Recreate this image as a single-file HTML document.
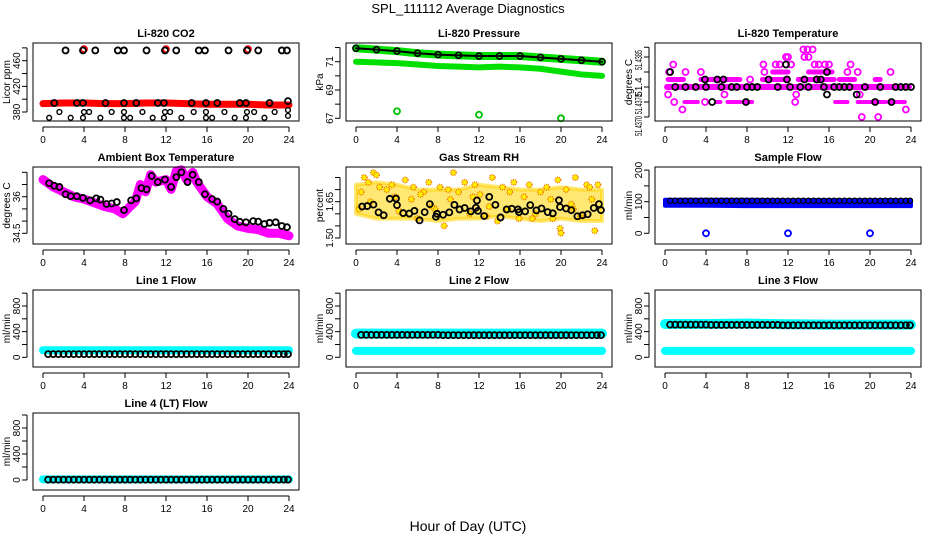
<!DOCTYPE html>
<html><head><meta charset="utf-8"><title>SPL_111112 Average Diagnostics</title>
<style>
html,body{margin:0;padding:0;background:#fff;}
svg{display:block;font-family:"Liberation Sans",Arial,sans-serif;}
.ttl{font-size:11px;font-weight:bold;text-anchor:middle;}
.tk{font-size:10px;}
</style></head>
<body>
<svg id="chart" width="936" height="540" viewBox="0 0 936 540">
<text x="468" y="13" font-size="13" text-anchor="middle">SPL_111112  Average Diagnostics</text>
<text x="468" y="531" font-size="14" text-anchor="middle">Hour of Day (UTC)</text>
</svg>
<script>
// ---------- data ----------
const xTicks=[0,4,8,12,16,20,24];
// CO2
const co2BandH=[0,2,4,6,8,10,12,14,16,18,20,22,24];
const co2BandV=[393,394,394,393,393,394,394,393,392,392,392,391,391];
const co2HighH=[2.2,3.9,5.1,7.3,7.9,10.1,11.9,13.0,15.2,15.8,18.1,19.9,21.0,23.3,23.8];
const co2HighV=[476,476,476,476,476,476,476,476,476,476,476,476,476,476,476];
const co2RedH=[4,12,20];
const co2RedV=[478,478,478];
const co2MidH=[1.1,3.3,3.9,6.1,7.9,9.1,11.2,11.8,14.5,15.9,17.0,19.2,19.8,22.1,23.9];
const co2MidV=[394,394,394,394,394,394,394,394,394,394,394,394,394,394,397];
const co2LowH=[1.6,4.0,4.5,6.7,7.9,9.7,11.9,12.4,14.7,15.9,17.7,19.9,20.6,22.6,23.9];
const co2LowV=[380,380,380,380,380,380,380,380,380,380,380,380,380,380,383];
const co2Low2H=[0.6,2.7,3.9,5.6,7.9,8.5,10.7,11.8,13.5,15.9,16.5,18.7,19.8,21.6,23.9];
const co2Low2V=[371,371,371,371,371,371,371,371,371,371,371,371,371,371,374];
const co2Ticks=[380,400,420,440,460,480];
const co2Labels=[380,420,460];
// Pressure
const presH=[0,2,4,6,8,10,12,14,16,18,20,22,24];
const presTop=[71.95,71.85,71.75,71.6,71.5,71.45,71.4,71.4,71.4,71.3,71.2,71.1,71.0];
const presLow=[71.0,70.95,70.9,70.8,70.7,70.65,70.6,70.65,70.6,70.5,70.3,70.1,70.0];
const presOutH=[4,12,20];
const presOutV=[67.5,67.25,67.0];
const presTicks=[67,68,69,70,71,72];
const presLabels=[67,69,71];
// Temperature (level index relative to 51.4380)
const tempSeg1S=[0.3,3.5,9.5,13.0,17.0,20.5];
const tempSeg1E=[1.8,7.3,12.0,16.5,18.5,21.0];
const tempSeg2S=[10.5,14.0];
const tempSeg2E=[12.0,16.3];
const tempSegM2S=[1.9,5.0,6.1,7.6,16.6,18.8,21.8];
const tempSegM2E=[3.2,5.4,7.3,8.5,17.8,21.5,23.4];
const tempPtH=[0.4,0.8,2.0,3.5,0.3,5.8,1.7,9.6,9.7,10.8,11.2,12.3,12.8,13.5,13.6,13.9,14.0,14.4,14.6,15.0,15.6,16.0,18.1,17.8,18.8,19.0,19.2,20.8,22.0,23.5,0.9,3.9,8.3,12.0,11.8,12.7];
const tempPtV=[2,3,2,2,-1,-1,-3,3,2,3,3,3,-1,5,4,5,4,5,3,3,3,3,3,2,2,-1,-4,-4,2,-3,-2,-2,1,4,4,-2];
const tempBlkH=[1,2,3,4,5.5,6.5,7,8,8.5,9,11,12.2,13.2,14,15.5,16.5,17,17.5,18,19.5,21,22.5,23,23.5,24,3.9,5.1,5.7,10.1,11.9,13.6,14.8,15.2,0.5,15.8,11.8,15.8,18.7,4.6,7.9,20.5,22.1];
const tempBlkV=[0,0,0,0,0,0,0,0,0,0,0,0,0,0,0,0,0,0,0,0,0,0,0,0,0,1,1,1,1,1,1,1,1,2,2,3,-1,-1,-2,-2,-2,-2];
const tempTicks=[5.3,4,2,0,-2,-4];
const tempLabV=[3.6,0,-2.3,-5.2];
const tempLabT=["51.4385","51.4","51.4370","51.4370"];
// Ambient
const ambH=[0,1,2,3,4,5,6,7,7.8,8.5,9,9.5,10,10.5,11,12,12.5,13,13.5,14,14.6,15,16,17,18,19,20,21,22,23,24];
const ambV=[36.7,36.4,36.2,36.0,35.9,35.75,35.6,35.5,35.3,35.6,35.8,36.5,36.2,36.9,36.6,36.7,36.3,37.05,37.1,36.7,37.0,36.6,36.0,35.7,35.1,34.8,34.7,34.65,34.5,34.5,34.4];
const ambBlkH=[0.6,1.1,1.6,2.2,2.7,3.3,3.9,4.6,5.2,5.6,6.2,6.7,7.2,7.9,8.6,9.1,9.6,10.1,10.6,11.2,11.9,12.5,13.0,13.5,14.1,14.6,15.2,15.8,16.5,17.0,17.6,18.1,18.7,19.2,19.8,20.5,21.0,21.6,22.1,22.7,23.3,23.8];
const ambBlkV=[36.55,36.45,36.4,36.1,36.02,36.02,35.95,35.85,35.93,35.88,35.7,35.72,35.78,35.45,35.85,35.93,36.35,36.3,36.85,36.6,36.7,36.4,36.8,37.0,36.6,36.9,36.6,36.1,35.9,35.8,35.5,35.3,35.08,34.97,34.95,35.0,34.98,34.88,34.93,34.95,34.8,34.75];
const ambTicks=[34.5,35.0,35.5,36.0,36.5,37.0];
const ambLabels=[34.5,36.0];
// Gas stream RH
const rhH=[0,2,4,6,8,10,12,14,16,18,20,22,24];
const rhUp=[1.72,1.73,1.72,1.70,1.70,1.70,1.72,1.71,1.70,1.70,1.71,1.70,1.70];
const rhLo=[1.60,1.58,1.58,1.58,1.57,1.58,1.58,1.59,1.58,1.57,1.58,1.57,1.57];
const rhPtH=[0.3,0.8,1.2,1.7,2.3,3.0,3.5,4.2,4.8,5.4,6.0,6.6,7.1,7.7,8.2,8.6,9.2,9.5,10.0,10.6,11.1,11.6,12.1,12.7,13.3,13.8,14.3,14.8,15.4,15.9,16.4,16.9,17.5,18.0,18.6,19.2,19.7,19.9,20.0,20.5,21.0,21.4,21.9,22.5,23.0,23.3,23.6,0.5,2.0,3.8,5.6,7.4,9.0,11.4,13.0,15.0,17.2,19.0,21.2,22.8,1.4,6.3];
const rhPtV=[1.62,1.75,1.73,1.77,1.71,1.70,1.72,1.61,1.74,1.66,1.58,1.69,1.73,1.62,1.71,1.55,1.66,1.77,1.69,1.73,1.60,1.72,1.68,1.59,1.75,1.57,1.71,1.62,1.73,1.58,1.67,1.72,1.60,1.69,1.71,1.58,1.74,1.54,1.52,1.70,1.64,1.75,1.59,1.72,1.66,1.53,1.72,1.69,1.76,1.67,1.71,1.63,1.70,1.67,1.63,1.69,1.58,1.66,1.62,1.71,1.65,1.68];
const rhBlkH=[0.6,1.1,1.7,2.2,2.7,3.3,3.9,4.0,4.6,5.2,5.7,6.2,6.7,7.2,7.8,7.9,8.5,9.1,9.6,10.1,10.6,11.2,11.7,11.8,11.9,12.5,13.0,13.6,14.1,14.7,15.2,15.8,15.9,16.5,17.0,17.6,18.1,18.7,19.2,19.8,19.9,20.5,21.0,21.6,22.1,22.6,23.2,23.7,23.9];
const rhBlkV=[1.630,1.632,1.638,1.606,1.594,1.662,1.663,1.636,1.603,1.601,1.612,1.573,1.607,1.640,1.588,1.600,1.596,1.606,1.637,1.618,1.624,1.610,1.625,1.655,1.612,1.591,1.670,1.637,1.585,1.618,1.621,1.618,1.607,1.610,1.636,1.614,1.622,1.607,1.602,1.656,1.628,1.622,1.615,1.590,1.594,1.598,1.624,1.640,1.615];
const rhTicks=[1.50,1.55,1.60,1.65,1.70,1.75];
const rhLabels=["1.50","1.65"];
const rhLabelV=[1.50,1.65];
// Sample flow
const sfH=[0,4,8,12,16,20,24];
const sfTop=[106,106,106,105,105,105,105];
const sfBot=[87,87,86,86,86,86,86];
const sfBlk=[103,103,103,103,103,103,103];
const sfOutH=[4,12,20];
const sfOutV=[0,0,0];
const sfTicks=[0,50,100,150,200];
const sfLabels=[0,100,200];
// Line flows
const flowH=[0,4,8,12,16,20,24];
const flowBlkH=[0.5,1,1.5,2,2.5,3,3.5,4,4.5,5,5.5,6,6.5,7,7.5,8,8.5,9,9.5,10,10.5,11,11.5,12,12.5,13,13.5,14,14.5,15,15.5,16,16.5,17,17.5,18,18.5,19,19.5,20,20.5,21,21.5,22,22.5,23,23.5,23.9];
const l1Cyan=[110,110,110,110,110,110,110];
const l1Blk=[50,50,50,50,50,50,50,50,50,50,50,50,50,50,50,50,50,50,50,50,50,50,50,50,50,50,50,50,50,50,50,50,50,50,50,50,50,50,50,50,50,50,50,50,50,50,50,50];
const l2CyanTop=[370,370,370,370,370,370,370];
const l2CyanLow=[100,100,100,100,100,100,100];
const l2Blk=[350,350,350,350,350,350,350,350,350,350,350,350,350,350,350,350,345,345,345,345,345,345,345,345,345,345,345,345,345,345,345,345,345,345,345,345,345,345,345,345,345,345,345,345,345,345,345,345];
const l3CyanTop=[520,520,525,515,510,510,510];
const l3CyanLow=[100,100,100,100,100,100,100];
const l3Blk=[510,510,510,510,510,510,510,510,505,505,505,505,505,505,505,505,505,505,505,505,505,505,500,500,500,500,500,500,500,500,500,500,500,500,500,500,500,500,500,500,500,500,500,500,500,500,500,500];
const l4Cyan=[10,10,10,10,10,10,10];
const l4Blk=[5,5,5,5,5,5,5,5,5,5,5,5,5,5,5,5,5,5,5,5,5,5,5,5,5,5,5,5,5,5,5,5,5,5,5,5,5,5,5,5,5,5,5,5,5,5,5,5];
const flowTicks=[0,200,400,600,800,1000];
const flowLabels=[0,400,800];

// ---------- drawing ----------
const NS="http://www.w3.org/2000/svg";
const svg=document.getElementById('chart');
function mk(tag,attrs,parent){const e=document.createElementNS(NS,tag);for(const k in attrs)e.setAttribute(k,attrs[k]);(parent||svg).appendChild(e);return e;}

const colL=[33,346,655];
const rowT=[43,167,290,413];
const rowB=[121,244,367,490];

function panel(name,title,ylab,col,row,ref){
  const L=colL[col],R=L+266,T=rowT[row],B=rowB[row];
  const g=mk('g',{});
  
  
  const x=h=>L+10+h*(246/24);
  const y=v=>ref[1]+(v-ref[0])*(ref[3]-ref[1])/(ref[2]-ref[0]);
  const t=mk('text',{x:(L+R)/2,y:T-6,class:'ttl'},g);t.textContent=title;
  
  
  const yl=mk('text',{x:0,y:0,'font-size':10,'text-anchor':'middle',transform:`translate(${L-23},${(T+B)/2}) rotate(-90)`},g);yl.textContent=ylab;
  
  
  const plot=mk('g',{},g);
  
  
  const box=mk('rect',{x:L,y:T,width:R-L,height:B-T,fill:'none',stroke:'#000','stroke-width':1},g);
  
  
  const xa=mk('g',{},g);
  
  
  mk('line',{x1:x(xTicks[0]),x2:x(xTicks[xTicks.length-1]),y1:B+6,y2:B+6,stroke:'#000'},xa);
  xTicks.forEach(h=>{mk('line',{x1:x(h),x2:x(h),y1:B+6,y2:B+11,stroke:'#000'},xa);
    const tt=mk('text',{x:x(h),y:B+22,class:'tk','text-anchor':'middle'},xa);tt.textContent=h;});
  const ya=mk('g',{},g);
  
  
  return {g:plot,ya,x,y,L,R,T,B,name};
}
function yAxis(p,ticks,labVals,labTexts,fit){
  mk('line',{x1:p.L-6,x2:p.L-6,y1:p.y(ticks[0]),y2:p.y(ticks[ticks.length-1]),stroke:'#000'},p.ya);
  ticks.forEach(v=>mk('line',{x1:p.L-11,x2:p.L-6,y1:p.y(v),y2:p.y(v),stroke:'#000'},p.ya));
  labVals.forEach((v,i)=>{const tx=labTexts?labTexts[i]:String(v);
    const a={x:0,y:0,class:'tk','text-anchor':'middle',transform:`translate(${p.L-13},${p.y(v)}) rotate(-90)`};
    if(fit&&tx.length>4){a.textLength=fit;a.lengthAdjust='spacingAndGlyphs';}
    const t=mk('text',a,p.ya);t.textContent=tx;});
}
function circles(p,hs,vs,color,r,sw,label){
  const g=mk('g',{},p.g);
  
  
  hs.forEach((h,i)=>{const c=mk('circle',{cx:p.x(h),cy:p.y(vs[i]),r:r||3,fill:'none',stroke:color,'stroke-width':sw||1.6},g);
    
    });
}
function band(p,hs,vs,color,w,label){
  const pts=hs.map((h,i)=>p.x(h)+','+p.y(vs[i])).join(' ');
  const l=mk('polyline',{points:pts,fill:'none',stroke:color,'stroke-width':w,'stroke-linejoin':'round','stroke-linecap':'round'},p.g);
  
  
}
function area(p,hs,up,lo,color,op,label){
  const a=hs.map((h,i)=>p.x(h)+','+p.y(up[i]));
  const b=hs.map((h,i)=>p.x(h)+','+p.y(lo[i])).reverse();
  const pg=mk('polygon',{points:a.concat(b).join(' '),fill:color,'fill-opacity':op,stroke:color,'stroke-opacity':op,'stroke-width':4,'stroke-linejoin':'round'},p.g);
  
  
}
function segs(p,ss,es,v,color,w,label){
  ss.forEach((s,i)=>{const l=mk('line',{x1:p.x(s),x2:p.x(es[i]),y1:p.y(v),y2:p.y(v),stroke:color,'stroke-width':w,'stroke-linecap':'round'},p.g);
    
    });
}

// P1 CO2
let p=panel('co2','Li-820 CO2','Licor ppm',0,0,[380,112,460,60.7]);
yAxis(p,co2Ticks,co2Labels);
band(p,co2BandH,co2BandV,'#ff0000',7,'co2-red-band');
circles(p,co2RedH,co2RedV,'#ff0000',3,1.8,'co2-red-outliers');
circles(p,co2HighH,co2HighV,'#000',3,1.8,'co2-black-high');
circles(p,co2MidH,co2MidV,'#000',3,1.8,'co2-black-mid');
circles(p,co2LowH,co2LowV,'#000',2.4,1.4,'co2-black-low');
circles(p,co2Low2H,co2Low2V,'#000',2.4,1.4,'co2-black-lowest');
// P2 Pressure
p=panel('pressure','Li-820 Pressure','kPa',1,0,[71,61.7,67,118.3]);
yAxis(p,presTicks,presLabels);
band(p,presH,presTop,'#00e000',8,'pressure-green-top-band');
band(p,presH,presLow,'#00e000',6,'pressure-green-low-band');
band(p,presH,presTop,'#000',2,'pressure-black-line');
circles(p,presH,presTop,'#000',3,1.6,'pressure-black-points');
circles(p,presOutH,presOutV,'#00c000',3,1.8,'pressure-green-outliers');
// P3 Temperature
p=panel('temperature','Li-820 Temperature','degrees C',2,0,[0,87,4,57]);
yAxis(p,tempTicks,tempLabV,tempLabT,20);
segs(p,[0.2],[23.8],0,'#ff00ff',6,'temp-magenta-base');
segs(p,tempSeg1S,tempSeg1E,1,'#ff00ff',5,'temp-magenta-level1');
segs(p,tempSeg2S,tempSeg2E,2,'#ff00ff',5,'temp-magenta-level2');
segs(p,tempSegM2S,tempSegM2E,-2,'#ff00ff',4,'temp-magenta-level-minus2');
circles(p,tempPtH,tempPtV,'#ff00ff',3,1.8,'temp-magenta-points');
circles(p,tempBlkH,tempBlkV,'#000',3,1.8,'temp-black-points');
// P4 Ambient
p=panel('ambient','Ambient Box Temperature','degrees C',0,1,[36,196.7,34.5,233.3]);
yAxis(p,ambTicks,ambLabels);
band(p,ambH,ambV,'#ff00ff',9,'ambient-magenta-band');
circles(p,ambBlkH,ambBlkV,'#000',3,1.8,'ambient-black-points');
// P5 RH
p=panel('rh','Gas Stream RH','percent',1,1,[1.65,201.7,1.50,238]);
yAxis(p,rhTicks,rhLabelV,rhLabels);
area(p,rhH,rhUp,rhLo,'#ffd400',0.55,'rh-orange-band');
(function(){const g=mk('g',{},p.g);
rhPtH.forEach((h,i)=>{const c=mk('circle',{cx:p.x(h),cy:p.y(rhPtV[i]),r:2.8,fill:'#ffee00',stroke:'#f07000','stroke-width':1.4,'stroke-dasharray':'1 1'},g);

});})();
circles(p,rhBlkH,rhBlkV,'#000',3,1.8,'rh-black-points');
// P6 Sample flow
p=panel('sample-flow','Sample Flow','ml/min',2,1,[100,201.7,0,233.3]);
yAxis(p,sfTicks,sfLabels);
area(p,sfH,sfTop,sfBot,'#0000ff',1,'sample-flow-blue-band');
circles(p,flowBlkH,flowBlkH.map(()=>sfBlk[0]),'#000',2.6,1.2,'sample-flow-black-points');
circles(p,sfOutH,sfOutV,'#0000ff',3,1.8,'sample-flow-blue-outliers');
// Flow panels
const fr3=[0,357.3,800,306], fr4=[0,480,800,428];
p=panel('line1-flow','Line 1 Flow','ml/min',0,2,fr3);
yAxis(p,flowTicks,flowLabels);
band(p,flowH,l1Cyan,'#00ffff',8,'line1-cyan-band');
circles(p,flowBlkH,l1Blk,'#000',3,1.8,'line1-black-points');
p=panel('line2-flow','Line 2 Flow','ml/min',1,2,fr3);
yAxis(p,flowTicks,flowLabels);
band(p,flowH,l2CyanTop,'#00ffff',10,'line2-cyan-top-band');
band(p,flowH,l2CyanLow,'#00ffff',8,'line2-cyan-low-band');
circles(p,flowBlkH,l2Blk,'#000',3,1.8,'line2-black-points');
p=panel('line3-flow','Line 3 Flow','ml/min',2,2,fr3);
yAxis(p,flowTicks,flowLabels);
band(p,flowH,l3CyanTop,'#00ffff',10,'line3-cyan-top-band');
band(p,flowH,l3CyanLow,'#00ffff',8,'line3-cyan-low-band');
circles(p,flowBlkH,l3Blk,'#000',3,1.8,'line3-black-points');
p=panel('line4-flow','Line 4 (LT) Flow','ml/min',0,3,fr4);
yAxis(p,flowTicks,flowLabels);
band(p,flowH,l4Cyan,'#00ffff',8,'line4-cyan-band');
circles(p,flowBlkH,l4Blk,'#000',3,1.8,'line4-black-points');
</script>
</body></html>
